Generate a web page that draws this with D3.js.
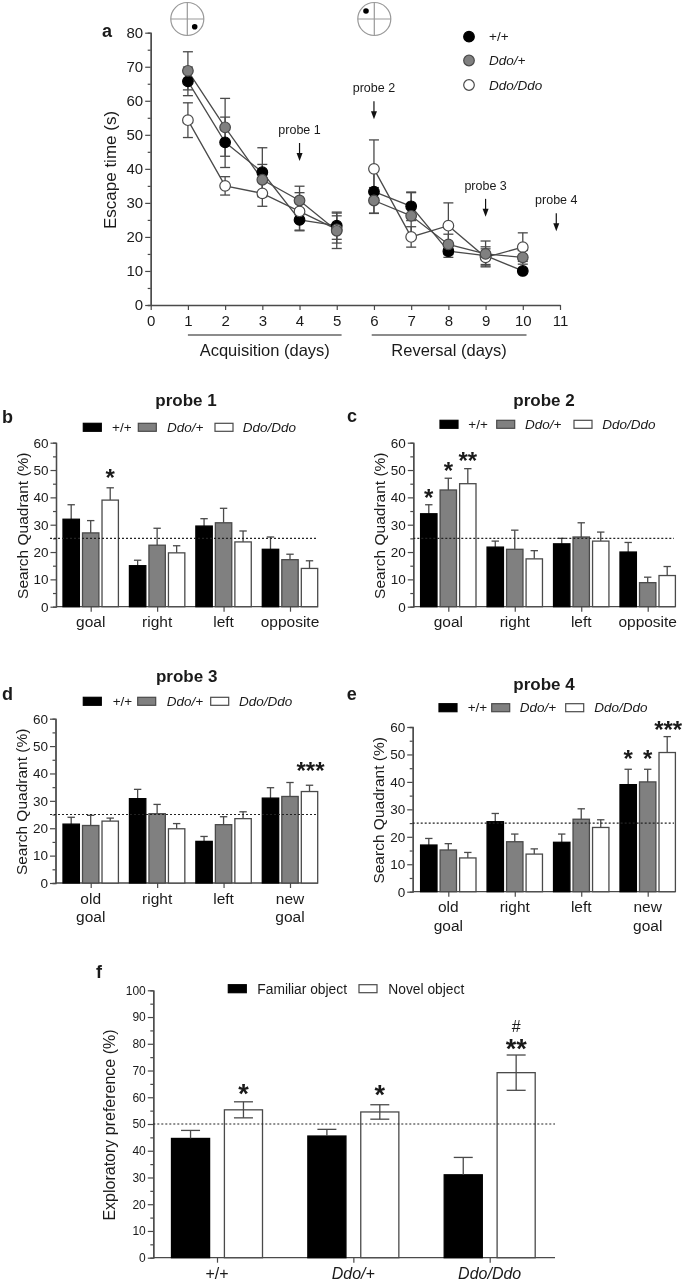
<!DOCTYPE html>
<html>
<head>
<meta charset="utf-8">
<script src="https://cdn.jsdelivr.net/npm/d3@7"></script>
<style>
  html, body { margin: 0; padding: 0; background: #fff; }
  svg { display: block; filter: blur(0.35px); }
  text { font-family: "Liberation Sans", Arial, sans-serif; fill: #1a1a1a; }
</style>
</head>
<body>
<svg width="685" height="1281"></svg>
<script>
// panel a values
const days = [1, 2, 3, 4, 5, 6, 7, 8, 9, 10];
const wtEscape = [65.7, 47.8, 39, 25, 23.3, 33.3, 29, 15.8, 14.5, 10];
const wtEscapeErr = [4.2, 7.4, 7.2, 3.2, 4, 6.3, 4.2, 1.8, 2.6, 0.8];
const hetEscape = [68.8, 52.2, 36.8, 30.7, 21.8, 30.7, 26.2, 17.8, 15, 14];
const hetEscapeErr = [5.6, 8.5, 4.5, 4.2, 5.2, 3.8, 6.8, 3, 3.8, 2];
const homoEscape = [54.3, 35, 32.8, 27.5, 22.2, 40, 20, 23.3, 14, 17];
const homoEscapeErr = [5.1, 2.7, 3.8, 5.5, 4, 8.5, 3, 6.7, 2.5, 4.2];
const probeNames = ['probe 1', 'probe 2', 'probe 3', 'probe 4'];
const probeDays = [4, 6, 9, 10.9];
const probeArrowTips = [42.3, 54.6, 25.9, 21.7];

// panels b-e values, order is +/+, Ddo/+, Ddo/Ddo. "Top" is the top of the error bar
const genotypes = ['+/+', 'Ddo/+', 'Ddo/Ddo'];
const probeCatsA = ['goal', 'right', 'left', 'opposite'];
const probeCatsB = ['old goal', 'right', 'left', 'new goal'];

const probe1Values = [[32, 15, 29.5, 21], [27, 22.5, 30.7, 17.2], [39, 19.7, 23.7, 14]];
const probe1Tops = [[37.3, 17, 32.2, 25.5], [31.5, 28.7, 36, 19.2], [43.5, 22.3, 27.7, 16.8]];
const probe2Values = [[34, 21.8, 23, 20], [42.7, 21, 25.5, 8.8], [45, 17.5, 24, 11.4]];
const probe2Tops = [[37.3, 24, 25, 23.5], [47, 28, 30.7, 10.8], [50.5, 20.5, 27.3, 14.7]];
const probe3Values = [[21.5, 30.8, 15.2, 31], [21, 25.3, 21.3, 31.6], [22.6, 19.8, 23.5, 33.4]];
const probe3Tops = [[24, 34.2, 17, 34.8], [24.7, 28.7, 24.2, 36.7], [23.7, 21.7, 26, 35.7]];
const probe4Values = [[17, 25.5, 18, 39], [15.2, 18.2, 26.4, 40], [12.3, 13.7, 23.4, 50.7]];
const probe4Tops = [[19.4, 28.5, 21, 44.6], [17.5, 21, 30.2, 44.6], [14.3, 15.6, 26.2, 56.5]];

// significance marks: [category, genotype index, text, value at the middle of the mark]
const probe1Stars = [['goal', 2, '*', 48.4]];
const probe2Stars = [['goal', 0, '*', 41.2], ['goal', 1, '*', 51], ['goal', 2, '**', 54.9]];
const probe3Stars = [['new goal', 2, '***', 42.5]];
const probe4Stars = [['new goal', 0, '*', 49.8], ['new goal', 1, '*', 49.8], ['new goal', 2, '***', 60.5]];

// panel f values
const objectGroups = ['+/+', 'Ddo/+', 'Ddo/Ddo'];
const objectNames = ['Familiar object', 'Novel object'];
const familiarValues = [44.6, 45.5, 31];
const familiarErr = [3, 2.5, 6.5];
const novelValues = [55.3, 54.5, 69.2];
const novelErr = [3, 2.7, 6.6];
const objectStars = [['+/+', '*', 63], ['Ddo/+', '*', 62.5], ['Ddo/Ddo', '**', 79.8]];

const AXIS = '#4a4a4a';
const fills = { '+/+': '#000', 'Ddo/+': '#808080', 'Ddo/Ddo': '#fff' };

const svg = d3.select('svg');

// plain text helper
function label(parent, x, y, str, size, opts = {}) {
    return parent.append('text')
        .attr('x', x).attr('y', y)
        .attr('font-size', size)
        .attr('text-anchor', opts.anchor || 'start')
        .attr('font-weight', opts.weight || null)
        .attr('font-style', opts.italic ? 'italic' : null)
        .text(str);
}

function rotatedLabel(x, y, str, size) {
    svg.append('text')
        .attr('transform', `translate(${x},${y}) rotate(-90)`)
        .attr('text-anchor', 'middle')
        .attr('font-size', size)
        .text(str);
}

function styleAxis(g, size) {
    g.selectAll('.domain').attr('stroke', AXIS).attr('stroke-width', 1.3);
    g.selectAll('.tick line').attr('stroke', AXIS).attr('stroke-width', 1.2);
    g.selectAll('.tick text').attr('font-size', size).attr('font-family', '"Liberation Sans", Arial, sans-serif').attr('fill', '#1a1a1a');
}

// y axis with a short minor tick every 5 units
function drawYAxis(parent, y, x0, max, size) {
    const minor = d3.range(0, max + 1, 5).filter(d => d % 10 !== 0);
    const minorG = parent.append('g').attr('transform', `translate(${x0},0)`)
        .call(d3.axisLeft(y).tickValues(minor).tickSize(3).tickFormat(''));
    styleAxis(minorG, size);
    const g = parent.append('g').attr('transform', `translate(${x0},0)`)
        .call(d3.axisLeft(y).tickValues(d3.range(0, max + 1, 10)).tickSize(5.5).tickSizeOuter(0).tickPadding(2));
    styleAxis(g, size);
}

function legendSwatch(x, yMid, fill) {
    svg.append('rect')
        .attr('x', x).attr('y', yMid - 4)
        .attr('width', 18).attr('height', 8)
        .attr('fill', fill)
        .attr('stroke', fill === '#000' ? '#000' : AXIS)
        .attr('stroke-width', 1.2);
}

// ---------- panel a ----------
function drawEscapePanel() {
    const x = d3.scaleLinear().domain([0, 11]).range([150.7, 560]);
    const y = d3.scaleLinear().domain([0, 80]).range([305, 32.7]);

    const xAxis = svg.append('g').attr('transform', 'translate(0,305)')
        .call(d3.axisBottom(x).tickValues(d3.range(0, 12)).tickSize(5).tickSizeOuter(0).tickPadding(5));
    styleAxis(xAxis, 15);
    drawYAxis(svg, y, 150.7, 80, 15);

    rotatedLabel(115.5, 170, 'Escape time (s)', 17);

    const series = [
        { name: '+/+', values: wtEscape, err: wtEscapeErr },
        { name: 'Ddo/Ddo', values: homoEscape, err: homoEscapeErr },
        { name: 'Ddo/+', values: hetEscape, err: hetEscapeErr }
    ];
    const line = d3.line().x(d => x(d.day)).y(d => y(d.value));

    // lines and whiskers first so the markers sit on top
    series.forEach(s => {
        const points = s.values.map((v, i) => ({ day: days[i], value: v }));
        // the line breaks between acquisition (day 5) and reversal (day 6)
        [points.filter(p => p.day <= 5), points.filter(p => p.day > 5)].forEach(part => {
            svg.append('path').datum(part)
                .attr('d', line).attr('fill', 'none')
                .attr('stroke', AXIS).attr('stroke-width', 1.3);
        });
        const g = svg.append('g').attr('stroke', AXIS).attr('stroke-width', 1.3);
        s.values.forEach((v, i) => {
            const cx = x(days[i]);
            g.append('line').attr('x1', cx).attr('x2', cx).attr('y1', y(v - s.err[i])).attr('y2', y(v + s.err[i]));
            [v - s.err[i], v + s.err[i]].forEach(e => {
                g.append('line').attr('x1', cx - 5).attr('x2', cx + 5).attr('y1', y(e)).attr('y2', y(e));
            });
        });
    });
    series.forEach(s => {
        svg.append('g').selectAll('circle').data(s.values).enter().append('circle')
            .attr('cx', (d, i) => x(days[i]))
            .attr('cy', d => y(d))
            .attr('r', 5.3)
            .attr('fill', fills[s.name])
            .attr('stroke', s.name === '+/+' ? '#000' : AXIS)
            .attr('stroke-width', 1.2);
    });

    // probe arrows
    probeDays.forEach((d, i) => {
        const tip = y(probeArrowTips[i]);
        const px = x(d);
        svg.append('line').attr('x1', px).attr('x2', px).attr('y1', tip - 18).attr('y2', tip - 5)
            .attr('stroke', '#111').attr('stroke-width', 1.2);
        svg.append('path')
            .attr('d', `M${px - 3},${tip - 8}L${px + 3},${tip - 8}L${px},${tip}Z`)
            .attr('fill', '#111');
        label(svg, px, tip - 27, probeNames[i], 12.5, { anchor: 'middle' });
    });

    // acquisition / reversal brackets
    [[1, 5.13, 'Acquisition (days)'], [5.94, 10.1, 'Reversal (days)']].forEach(b => {
        svg.append('line').attr('x1', x(b[0])).attr('x2', x(b[1])).attr('y1', 335).attr('y2', 335)
            .attr('stroke', '#666').attr('stroke-width', 1.3);
        label(svg, (x(b[0]) + x(b[1])) / 2, 356, b[2], 16.5, { anchor: 'middle' });
    });

    // legend
    [['+/+', 36.7], ['Ddo/+', 60.5], ['Ddo/Ddo', 85]].forEach(l => {
        svg.append('circle').attr('cx', 469).attr('cy', l[1]).attr('r', 5.3)
            .attr('fill', fills[l[0]]).attr('stroke', l[0] === '+/+' ? '#000' : AXIS).attr('stroke-width', 1.2);
        label(svg, 489, l[1] + 4.5, l[0], 13.5, { italic: l[0] !== '+/+' });
    });

    // water maze circles with the platform dot
    [[187.3, 194.7, 26.7], [374.3, 366, 11]].forEach(c => {
        const g = svg.append('g').attr('stroke', '#999').attr('stroke-width', 1.2).attr('fill', 'none');
        g.append('circle').attr('cx', c[0]).attr('cy', 19).attr('r', 16.5);
        g.append('line').attr('x1', c[0] - 16.5).attr('x2', c[0] + 16.5).attr('y1', 19).attr('y2', 19);
        g.append('line').attr('x1', c[0]).attr('x2', c[0]).attr('y1', 2.5).attr('y2', 35.5);
        svg.append('circle').attr('cx', c[1]).attr('cy', c[2]).attr('r', 2.8).attr('fill', '#000');
    });
}

// ---------- panels b-e ----------
function drawProbePanel(cfg) {
    const x = d3.scalePoint().domain(cfg.cats).range(cfg.centers);
    const inner = d3.scaleBand().domain(genotypes).range([-27.7, 27.7]).paddingInner(0.16);
    const y = d3.scaleLinear().domain([0, 60]).range([cfg.y0, cfg.y60]);

    const xAxis = svg.append('g').attr('transform', `translate(0,${cfg.y0})`)
        .call(d3.axisBottom(x).tickSize(5).tickSizeOuter(0).tickFormat(''));
    styleAxis(xAxis, 15.5);
    xAxis.select('.domain').remove();
    svg.append('line').attr('x1', cfg.x0).attr('x2', cfg.xEnd).attr('y1', cfg.y0).attr('y2', cfg.y0)
        .attr('stroke', AXIS).attr('stroke-width', 1.3);

    // category labels, two lines when the name has a space
    cfg.cats.forEach(c => {
        c.split(' ').forEach((word, i) => {
            label(svg, x(c), cfg.y0 + 20.5 + i * 18.3, word, 15.5, { anchor: 'middle' });
        });
    });

    drawYAxis(svg, y, cfg.x0, 60, 13.5);
    rotatedLabel(cfg.x0 - 28.5, (cfg.y0 + cfg.y60) / 2 + 1, 'Search Quadrant (%)', 15.5);

    genotypes.forEach((g, si) => {
        cfg.values[si].forEach((v, i) => {
            const bx = x(cfg.cats[i]) + inner(g);
            const cx = bx + inner.bandwidth() / 2;
            const top = y(cfg.tops[si][i]);
            svg.append('line').attr('x1', cx).attr('x2', cx).attr('y1', top).attr('y2', y(v))
                .attr('stroke', AXIS).attr('stroke-width', 1.3);
            svg.append('line').attr('x1', cx - 3.7).attr('x2', cx + 3.7).attr('y1', top).attr('y2', top)
                .attr('stroke', AXIS).attr('stroke-width', 1.3);
            svg.append('rect')
                .attr('x', bx).attr('y', y(v))
                .attr('width', inner.bandwidth()).attr('height', y(0) - y(v))
                .attr('fill', fills[g])
                .attr('stroke', g === '+/+' ? '#000' : AXIS)
                .attr('stroke-width', 1.3);
        });
    });

    // 25% chance line
    svg.append('line').attr('x1', cfg.dashX[0]).attr('x2', cfg.dashX[1]).attr('y1', y(25)).attr('y2', y(25))
        .attr('stroke', '#222').attr('stroke-width', 1.1).attr('stroke-dasharray', '2,2');

    cfg.stars.forEach(s => {
        const cx = x(s[0]) + inner(genotypes[s[1]]) + inner.bandwidth() / 2 + (s[2] === '***' ? 1 : 0);
        label(svg, cx, y(s[3]) + 12, s[2], 24, { anchor: 'middle', weight: 'bold' }).attr('fill', '#111');
    });

    label(svg, cfg.titleX, cfg.titleY, cfg.title, 17, { anchor: 'middle', weight: 'bold' });
    label(svg, cfg.letter[0], cfg.letter[1], cfg.letter[2], 18, { weight: 'bold' });

    cfg.legend.forEach((l, i) => {
        legendSwatch(l[0], cfg.legendY, fills[genotypes[i]]);
        label(svg, l[1], cfg.legendY + 4.5, genotypes[i], 13.5, { italic: i > 0 });
    });
}

// ---------- panel f ----------
function drawObjectPanel() {
    const x = d3.scalePoint().domain(objectGroups).range([217, 489.7]);
    const inner = d3.scaleBand().domain(objectNames).range([-45.5, 45.5]).paddingInner(0.28);
    const y = d3.scaleLinear().domain([0, 100]).range([1257.7, 990.3]);

    const xAxis = svg.append('g').attr('transform', 'translate(0,1257.7)')
        .call(d3.axisBottom(x).tickSize(5).tickSizeOuter(0).tickFormat(''));
    styleAxis(xAxis, 14);
    xAxis.select('.domain').remove();
    svg.append('line').attr('x1', 153.3).attr('x2', 555).attr('y1', 1257.7).attr('y2', 1257.7)
        .attr('stroke', AXIS).attr('stroke-width', 1.3);
    objectGroups.forEach(g => {
        label(svg, x(g), 1279, g, 16, { anchor: 'middle', italic: g !== '+/+' });
    });

    drawYAxis(svg, y, 153.3, 100, 12);
    rotatedLabel(115, 1125, 'Exploratory preference (%)', 16);

    [[objectNames[0], familiarValues, familiarErr, '#000'], [objectNames[1], novelValues, novelErr, '#fff']].forEach(s => {
        s[1].forEach((v, i) => {
            const bx = x(objectGroups[i]) + inner(s[0]);
            const cx = bx + inner.bandwidth() / 2;
            svg.append('rect')
                .attr('x', bx).attr('y', y(v))
                .attr('width', inner.bandwidth()).attr('height', y(0) - y(v))
                .attr('fill', s[3])
                .attr('stroke', s[3] === '#000' ? '#000' : AXIS)
                .attr('stroke-width', 1.3);
            const hi = y(v + s[2][i]);
            const lo = y(v - s[2][i]);
            svg.append('line').attr('x1', cx).attr('x2', cx).attr('y1', hi).attr('y2', s[3] === '#000' ? y(v) : lo)
                .attr('stroke', AXIS).attr('stroke-width', 1.3);
            const caps = s[3] === '#000' ? [hi] : [hi, lo];
            caps.forEach(c => {
                svg.append('line').attr('x1', cx - 9.5).attr('x2', cx + 9.5).attr('y1', c).attr('y2', c)
                    .attr('stroke', AXIS).attr('stroke-width', 1.3);
            });
        });
    });

    svg.append('line').attr('x1', 153.3).attr('x2', 555).attr('y1', y(50)).attr('y2', y(50))
        .attr('stroke', '#222').attr('stroke-width', 1.1).attr('stroke-dasharray', '2,2');

    objectStars.forEach(s => {
        const cx = x(s[0]) + inner(objectNames[1]) + inner.bandwidth() / 2;
        label(svg, cx, y(s[2]) + 13.5, s[1], 27, { anchor: 'middle', weight: 'bold' }).attr('fill', '#111');
    });
    label(svg, x('Ddo/Ddo') + inner(objectNames[1]) + inner.bandwidth() / 2, y(86) + 4.5, '#', 16, { anchor: 'middle' });

    label(svg, 96, 978, 'f', 18, { weight: 'bold' });
    legendSwatch(228.3, 988.7, '#000');
    label(svg, 257.3, 993.5, objectNames[0], 13.8);
    legendSwatch(359, 988.7, '#fff');
    label(svg, 388.3, 993.5, objectNames[1], 13.8);
}

drawEscapePanel();
label(svg, 102, 37, 'a', 18, { weight: 'bold' });

drawProbePanel({
    title: 'probe 1', titleX: 186, titleY: 405.5, letter: [2, 422.7, 'b'],
    cats: probeCatsA, values: probe1Values, tops: probe1Tops, stars: probe1Stars,
    centers: [90.7, 290], x0: 56, xEnd: 318, y0: 606.7, y60: 442.7, dashX: [50, 316],
    legendY: 427.3, legend: [[83.3, 112], [138.3, 167], [215, 242.7]]
});
drawProbePanel({
    title: 'probe 2', titleX: 544, titleY: 405.5, letter: [347, 421.7, 'c'],
    cats: probeCatsA, values: probe2Values, tops: probe2Tops, stars: probe2Stars,
    centers: [448.3, 647.7], x0: 413.3, xEnd: 675, y0: 606.7, y60: 442.7, dashX: [413.3, 674],
    legendY: 424.3, legend: [[440, 468.3], [496.7, 525], [574, 602.3]]
});
drawProbePanel({
    title: 'probe 3', titleX: 186.7, titleY: 681.5, letter: [2, 700, 'd'],
    cats: probeCatsB, values: probe3Values, tops: probe3Tops, stars: probe3Stars,
    centers: [90.7, 290], x0: 55.5, xEnd: 318, y0: 883, y60: 718.7, dashX: [50, 316],
    legendY: 701.3, legend: [[83.3, 112.7], [137.7, 166.7], [210.7, 239]]
});
drawProbePanel({
    title: 'probe 4', titleX: 544, titleY: 689.5, letter: [346.7, 700, 'e'],
    cats: probeCatsB, values: probe4Values, tops: probe4Tops, stars: probe4Stars,
    centers: [448.3, 647.7], x0: 412.7, xEnd: 675, y0: 891.7, y60: 727, dashX: [412.7, 674],
    legendY: 707.7, legend: [[439, 467.7], [491.7, 519.7], [565.7, 594.3]]
});
drawObjectPanel();
</script>
</body>
</html>
